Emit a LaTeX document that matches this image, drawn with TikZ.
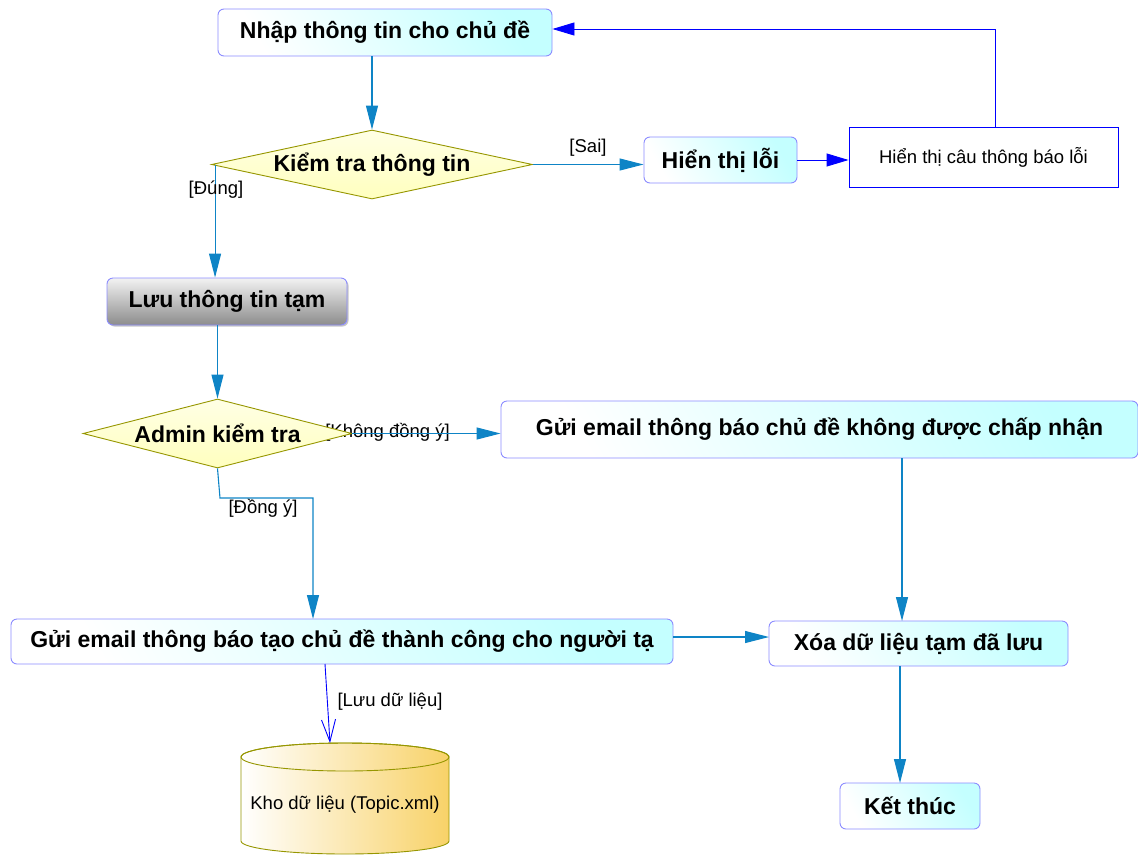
\documentclass[tikz,border=0pt]{standalone}
\usepackage{fontspec}
\setmainfont{Liberation Sans}
\usetikzlibrary{arrows.meta,shapes.geometric,shadows}

\definecolor{flow}{RGB}{14,132,198}
\definecolor{boxedge}{RGB}{140,140,255}
\definecolor{boxcyan}{RGB}{196,255,255}
\definecolor{decedge}{RGB}{150,150,0}
\definecolor{decfill}{RGB}{255,255,190}
\definecolor{gold}{RGB}{248,210,104}
\definecolor{pureblue}{RGB}{0,0,255}

\tikzset{
  actbox/.style={rounded corners=6pt, draw=boxedge, line width=0.9pt,
    left color=white, right color=boxcyan, shading angle=120,
    font=\bfseries\fontsize{23}{26}\selectfont, inner sep=0pt, align=center},
  decision/.style={diamond, draw=decedge, line width=0.9pt,
    top color=white!60!decfill, bottom color=decfill,
    font=\bfseries\fontsize{23}{26}\selectfont, inner sep=0pt},
  note/.style={font=\fontsize{18.5}{21}\selectfont, inner sep=0pt},
  flowline/.style={draw=flow, line width=1.1pt,
    -{Triangle[length=24pt,width=12pt]}},
  blueline/.style={draw=pureblue, line width=0.9pt,
    -{Triangle[length=22pt,width=13pt]}},
}

\begin{document}
\begin{tikzpicture}[x=1pt,y=-1pt]
  \useasboundingbox (0,0) rectangle (1138,855);

  % label drawn first so the decision shape covers its start
  \node[note, anchor=east] (lkdy) at (450,432) {[Không đồng ý]};

  % activity nodes
  \node[actbox, minimum width=334pt, minimum height=47pt] (nhap) at (385,32.5) {Nhập thông tin cho chủ đề};
  \node[decision, minimum width=321pt, minimum height=69pt, aspect=4.65] (kt) at (372,164.5) {Kiểm tra thông tin};
  \node[actbox, minimum width=153pt, minimum height=46pt] (hl) at (720.5,160) {Hiển thị lỗi};
  \node[draw=pureblue, line width=0.9pt, minimum width=269pt, minimum height=60pt,
        font=\fontsize{18.5}{21}\selectfont, inner sep=0pt] (hc) at (983.5,157) {Hiển thị câu thông báo lỗi};

  \node[actbox, minimum width=240pt, minimum height=47pt, left color=white, right color=white,
        top color=white!95!black, bottom color=black!45, shading angle=0,
        drop shadow={shadow xshift=1.5pt, shadow yshift=-1.5pt, opacity=0.45}] (luu) at (227,301.5) {Lưu thông tin tạm};

  \node[decision, minimum width=269pt, minimum height=69pt, aspect=3.9] (admin) at (217.5,433.5) {Admin kiểm tra};
  \node[actbox, minimum width=637pt, minimum height=57pt] (gk) at (819.5,429.5) {Gửi email thông báo chủ đề không được chấp nhận};
  \node[actbox, minimum width=662pt, minimum height=45pt] (gt) at (342,641.5) {Gửi email thông báo tạo chủ đề thành công cho người tạ};
  \node[actbox, minimum width=299pt, minimum height=45pt] (xoa) at (918.5,643.5) {Xóa dữ liệu tạm đã lưu};
  \node[actbox, minimum width=140pt, minimum height=46pt] (kthuc) at (910,806) {Kết thúc};

  % data store cylinder
  \shade[left color=white, right color=gold, draw=decedge, line width=0.9pt]
    (241,757) -- (241,841) arc[start angle=180, end angle=360, x radius=104pt, y radius=13pt]
    -- (449,757) arc[start angle=0, end angle=180, x radius=104pt, y radius=14pt] -- cycle;
  \draw[decedge, line width=0.9pt] (345,757) ellipse[x radius=104pt, y radius=14pt];
  \node[note] (kho) at (345,805) {Kho dữ liệu (Topic.xml)};
  \coordinate (khotop) at (330,743);

  % connectors
  \draw[flowline] (kt.north |- nhap.south) -- (kt.north);
  \draw[flowline] (kt.east) -- (kt.east -| hl.west);
  \node[note] (lsai) at (588,148) {[Sai]};
  \draw[blueline] (hl.east) -- (hl.east -| hc.west);
  \draw[blueline] (hc.north -| 995,0) -- (995,29) -- (nhap.east |- 0,29);

  \draw[flowline] ([xshift=4pt]kt.west) -- ([xshift=4pt]kt.west |- luu.north);
  \node[note] (ldung) at (216,190) {[Đúng]};

  \draw[flowline] (luu.south -| admin.north) -- (admin.north);
  \draw[flowline] (admin.east) -- (admin.east -| gk.west);

  \draw[flowline] (admin.south) -- (220,498) -- (313,498) -- (313,619);
  \node[note] (ldongy) at (263,508) {[Đồng ý]};

  \draw[flowline] (902,458) -- (902,621);
  \draw[flowline] (673,637) -- (769,637);
  \draw[flowline] (900,666) -- (900,783);

  \draw[draw=pureblue, line width=0.9pt, -{Straight Barb[length=22pt,width=14pt]}] (325,664) -- (khotop);
  \node[note] (lluu) at (390,702) {[Lưu dữ liệu]};
\end{tikzpicture}
\end{document}
